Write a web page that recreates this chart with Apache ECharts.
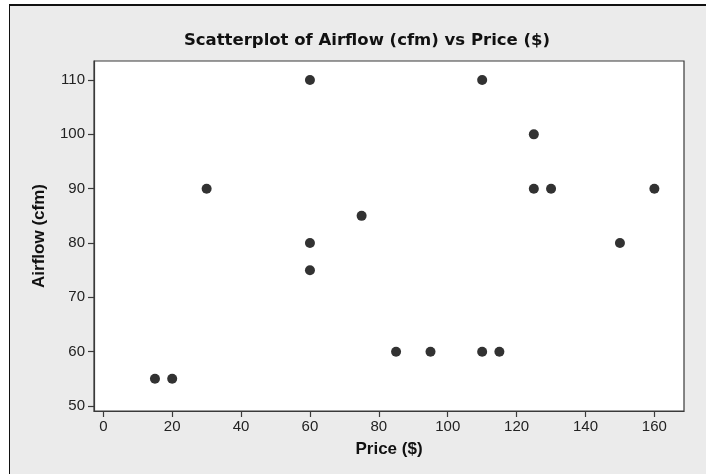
<!DOCTYPE html>
<html>
<head>
<meta charset="utf-8">
<script src="https://cdn.jsdelivr.net/npm/echarts@6/dist/echarts.min.js"></script>
<style>
html,body{margin:0;padding:0;background:#fff;}
#chart{width:706px;height:474px;}
</style>
</head>
<body>
<div id="chart"></div>
<script>
var price = [15, 20, 30, 60, 60, 60, 75, 85, 95, 110, 110, 115, 125, 125, 130, 150, 160];
var airflow = [55, 55, 90, 110, 80, 75, 85, 60, 60, 110, 60, 60, 100, 90, 90, 80, 90];
var xTicks = [0, 20, 40, 60, 80, 100, 120, 140, 160];
var yTicks = [50, 60, 70, 80, 90, 100, 110];
var titleText = 'Scatterplot of Airflow (cfm) vs Price ($)';
var xName = 'Price ($)';
var yName = 'Airflow (cfm)';

var points = price.map(function (p, i) { return [p, airflow[i]]; });

var chart = echarts.init(document.getElementById('chart'), null, {renderer: 'canvas'});
chart.setOption({
  animation: false,
  backgroundColor: '#ffffff',
  graphic: {
    elements: [{
      type: 'rect',
      z: -100,
      silent: true,
      shape: {x: 9, y: 5, width: 760, height: 520},
      style: {fill: '#ebebeb'}
    }, {
      type: 'line',
      z: -90,
      silent: true,
      shape: {x1: 9, y1: 5, x2: 760, y2: 5},
      style: {stroke: '#111111', lineWidth: 2}
    }, {
      type: 'line',
      z: -90,
      silent: true,
      shape: {x1: 9.5, y1: 5, x2: 9.5, y2: 520},
      style: {stroke: '#111111', lineWidth: 1}
    }]
  },
  title: {
    text: titleText,
    left: 362,
    textAlign: 'center',
    top: 27,
    textStyle: {fontFamily: 'DejaVu Sans', fontWeight: 'bold', fontSize: 16.5, color: '#111111'}
  },
  grid: {
    left: 94, right: 22, top: 61, bottom: 63,
    show: true,
    backgroundColor: '#ffffff',
    borderColor: '#3a3a3a',
    borderWidth: 1.2,
    containLabel: false,
    outerBoundsMode: 'none'
  },
  xAxis: {
    type: 'value',
    min: -2.7,
    max: 168.6,
    name: xName,
    nameLocation: 'middle',
    nameGap: 30,
    nameTextStyle: {fontFamily: 'Liberation Sans', fontWeight: 'bold', fontSize: 17, color: '#111111'},
    splitLine: {show: false},
    axisLine: {show: true, onZero: false, lineStyle: {color: '#3a3a3a', width: 1.2}},
    axisTick: {show: true, length: 6, customValues: xTicks, lineStyle: {color: '#3a3a3a', width: 1.2}},
    axisLabel: {customValues: xTicks, margin: 8, fontFamily: 'Liberation Sans', fontSize: 15, color: '#222222'}
  },
  yAxis: {
    type: 'value',
    min: 49.08,
    max: 113.5,
    name: yName,
    nameLocation: 'middle',
    nameGap: 46,
    nameTextStyle: {fontFamily: 'Liberation Sans', fontWeight: 'bold', fontSize: 17, color: '#111111'},
    splitLine: {show: false},
    axisLine: {show: true, onZero: false, lineStyle: {color: '#3a3a3a', width: 1.2}},
    axisTick: {show: true, length: 6, customValues: yTicks, lineStyle: {color: '#3a3a3a', width: 1.2}},
    axisLabel: {customValues: yTicks, margin: 9, fontFamily: 'Liberation Sans', fontSize: 15, color: '#222222'}
  },
  series: [{
    type: 'scatter',
    data: points,
    symbol: 'circle',
    symbolSize: 10,
    itemStyle: {color: '#323232', opacity: 1}
  }]
});
</script>
</body>
</html>
